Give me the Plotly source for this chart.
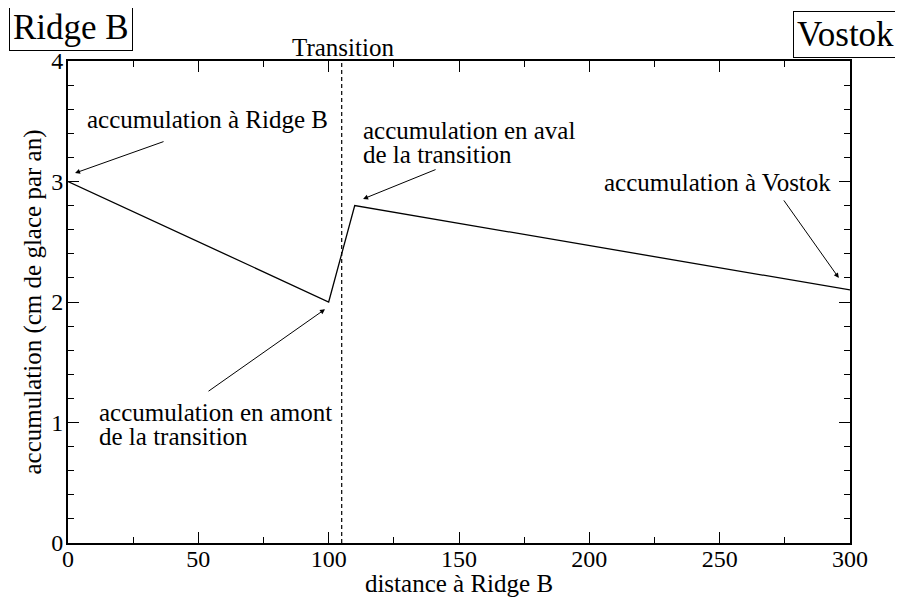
import plotly.graph_objects as go

# Data
distance = [0, 100, 110, 300]
accumulation = [3.0, 2.0, 2.8, 2.1]
transition_x = 105
x_ticks = [0, 50, 100, 150, 200, 250, 300]
y_ticks = [0, 1, 2, 3, 4]

FONT = "Liberation Serif, Times New Roman, serif"

fig = go.Figure()
fig.add_trace(go.Scatter(x=distance, y=accumulation, mode="lines",
                         line=dict(color="black", width=1.3), showlegend=False))
fig.add_trace(go.Scatter(x=[transition_x, transition_x], y=[0, 4], mode="lines",
                         line=dict(color="black", width=1.2, dash="4px,3px"), showlegend=False))

ax_common = dict(showline=True, linecolor="black", linewidth=2, mirror="allticks",
                 ticks="inside", ticklen=11, tickwidth=1.2, tickcolor="black",
                 showgrid=False, zeroline=False, automargin=False,
                 tickfont=dict(family=FONT, size=24, color="black"))

fig.update_xaxes(range=[0, 300], tickvals=x_ticks, ticktext=[str(v) for v in x_ticks],
                 minor=dict(dtick=25, ticks="inside", ticklen=6, tickwidth=1.2, tickcolor="black", showgrid=False),
                 title=dict(text="distance à Ridge B", font=dict(family=FONT, size=25, color="black"), standoff=0),
                 ticklabelstandoff=-7, **ax_common)
fig.update_yaxes(range=[0, 4], tickvals=y_ticks, ticktext=[str(v) for v in y_ticks],
                 minor=dict(dtick=0.2, ticks="inside", ticklen=6, tickwidth=1.2, tickcolor="black", showgrid=False),
                 title=dict(text="accumulation (cm de glace par an)", font=dict(family=FONT, size=25, color="black"), standoff=2),
                 ticklabelstandoff=-2, **ax_common)

afont = dict(family=FONT, size=25, color="black")

def arrow(x, y, ax, ay):
    return dict(x=x, y=y, ax=ax, ay=ay, axref="pixel", ayref="pixel", xref="x", yref="y",
                showarrow=True, arrowhead=2, arrowsize=1, arrowwidth=1, arrowcolor="black", text="")

# paper coords: plot area x 68..850 (782px), y 61..543 (482px) in page pixels
def px(xp):
    return (xp - 68) / 782
def py(yp):
    return (543 - yp) / 482

def label(xp, yp, text, xanchor):
    return dict(x=px(xp), y=py(yp), xref="paper", yref="paper", text=text, showarrow=False,
                xanchor=xanchor, yanchor="middle", font=afont)

annotations = [
    arrow(2.7, 3.07, 90, -32),
    arrow(113.2, 2.855, 74, -30),
    arrow(295.7, 2.2, -56, -79),
    arrow(98.6, 1.94, -118, 83),
    label(85, 119, "accumulation à Ridge B", "left"),
    label(361, 130, "accumulation en aval", "left"),
    label(361, 154, "de la transition", "left"),
    label(833, 182, "accumulation à Vostok", "right"),
    label(97, 412, "accumulation en amont", "left"),
    label(97, 436, "de la transition", "left"),
    label(343, 47, "Transition", "center"),
    dict(x=px(9), y=py(4), xref="paper", yref="paper", xanchor="left", yanchor="top",
         text="Ridge B", showarrow=False, font=dict(family=FONT, size=35, color="black"),
         bordercolor="black", borderwidth=1, borderpad=3, bgcolor="white"),
    dict(x=px(898), y=py(11), xref="paper", yref="paper", xanchor="right", yanchor="top",
         text="Vostok", showarrow=False, font=dict(family=FONT, size=35, color="black"),
         bordercolor="black", borderwidth=1, borderpad=3, bgcolor="white"),
]

# the page body adds an 8px margin, so the figure is 895x589 and shifted by 8px
fig.update_layout(annotations=annotations, width=895, height=589,
                  margin=dict(l=60, r=53, t=53, b=54),
                  plot_bgcolor="white", paper_bgcolor="white",
                  font=dict(family=FONT, color="black"))

fig.write_html("out.html")
